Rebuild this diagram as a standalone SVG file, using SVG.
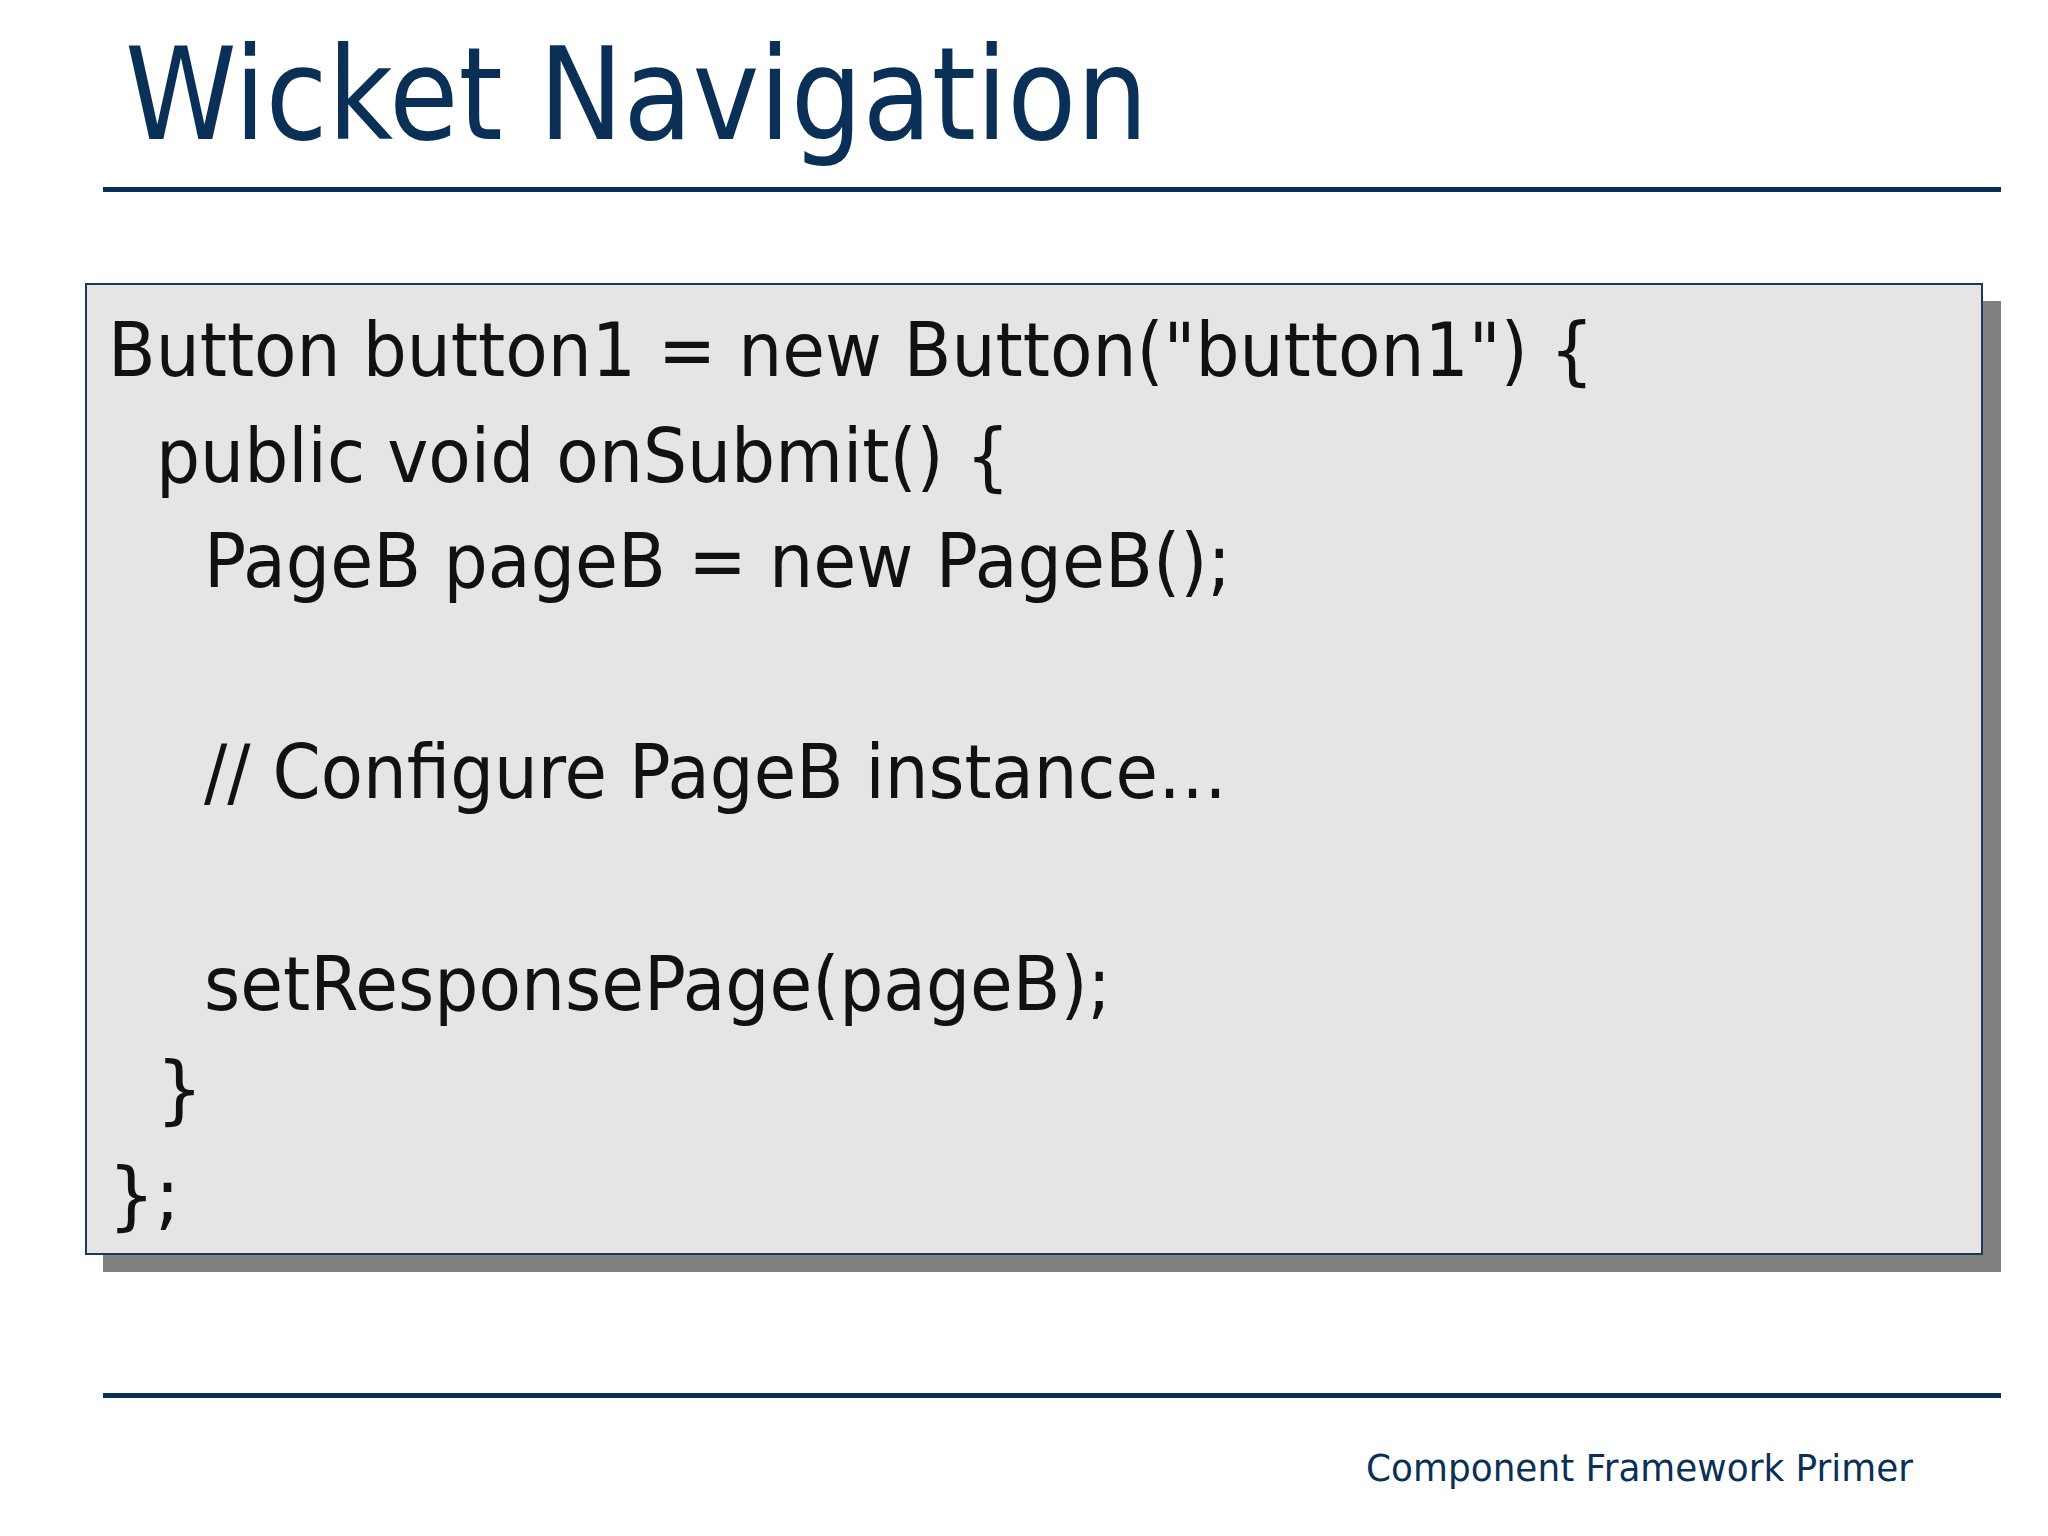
<svg xmlns="http://www.w3.org/2000/svg" width="2048" height="1536" viewBox="0 0 2048 1536">
<style>
.code{font-family:"DejaVu Sans",Verdana,sans-serif;font-size:74px;fill:#111}
.rule{fill:#0a3057}
</style>
<rect width="2048" height="1536" fill="#fff"/>
<g id="title"><text x="125" y="139" font-family="DejaVu Sans,sans-serif" font-size="128" fill="#0a3057" textLength="1023" lengthAdjust="spacingAndGlyphs">Wicket Navigation</text></g>
<rect class="rule" x="103" y="187" width="1898" height="5"/>
<g id="codebox">
<rect x="103" y="301" width="1898" height="971" fill="#808080"/>
<rect x="86" y="284" width="1896" height="970" fill="#e6e5e3" stroke="#1a3a5c" stroke-width="2"/>
<text class="code" x="108" y="376" textLength="1486" lengthAdjust="spacingAndGlyphs">Button button1 = new Button("button1") {</text>
<text class="code" x="156" y="482" textLength="854" lengthAdjust="spacingAndGlyphs">public void onSubmit() {</text>
<text class="code" x="204" y="587" textLength="1027" lengthAdjust="spacingAndGlyphs">PageB pageB = new PageB();</text>
<text class="code" x="204" y="798" textLength="1023" lengthAdjust="spacingAndGlyphs">// Configure PageB instance…</text>
<text class="code" x="204" y="1010" textLength="907" lengthAdjust="spacingAndGlyphs">setResponsePage(pageB);</text>
<text class="code" x="156" y="1115">}</text>
<text class="code" x="108" y="1221">};</text>
</g>
<rect class="rule" x="103" y="1393" width="1898" height="5"/>
<g id="footer"><text x="1366" y="1481" font-family="DejaVu Sans,sans-serif" font-size="38" fill="#0a3057" textLength="547" lengthAdjust="spacingAndGlyphs">Component Framework Primer</text></g>
</svg>
